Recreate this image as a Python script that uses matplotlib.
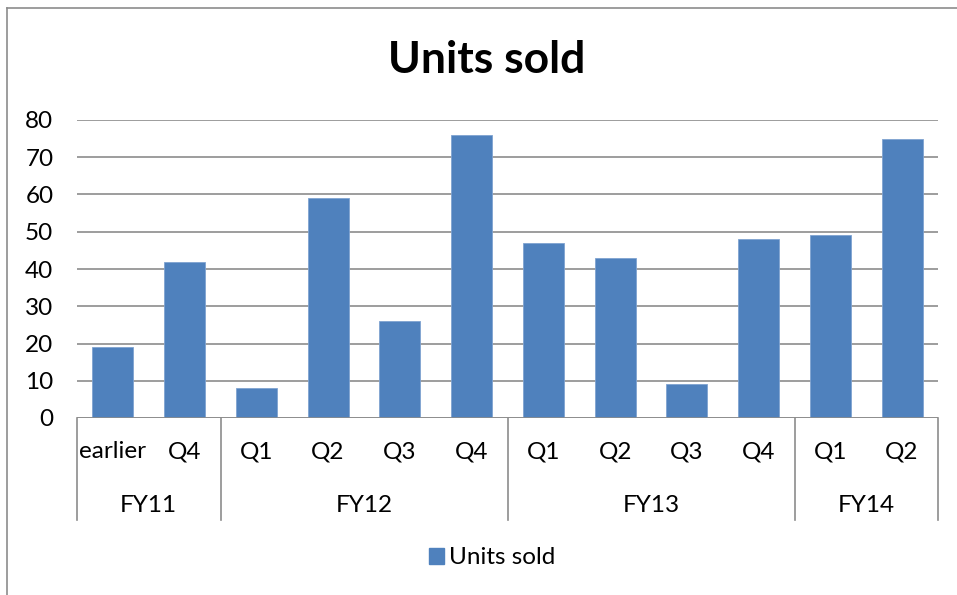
import matplotlib.pyplot as plt
from matplotlib.lines import Line2D
from matplotlib.patches import Patch

quarters = ['earlier', 'Q4', 'Q1', 'Q2', 'Q3', 'Q4', 'Q1', 'Q2', 'Q3', 'Q4', 'Q1', 'Q2']
years = ['FY11', 'FY12', 'FY13', 'FY14']
year_sizes = [2, 4, 4, 2]
units = [19, 42, 8, 59, 26, 76, 47, 43, 9, 48, 49, 75]

plt.rcParams['font.family'] = ['Lato', 'DejaVu Sans']
bar_color = '#4F81BD'
grid_color = '#8C8C8C'

W, H = 957, 595
fig = plt.figure(figsize=(W / 100, H / 100), dpi=100)
ax = fig.add_axes([77 / W, (H - 418) / H, (938 - 77) / W, (418 - 120) / H])

x = list(range(len(units)))
ax.bar(x, units, width=0.57, color=bar_color, edgecolor='#7FA3D1', linewidth=0.6,
       zorder=3, label='Units sold')
ax.set_xlim(-0.5, len(units) - 0.5)
ax.set_ylim(0, 80)
ax.set_yticks(range(0, 81, 10))
ax.yaxis.grid(True, color=grid_color, linewidth=1.2, zorder=0)
for s in ax.spines.values():
    s.set_visible(False)
ax.axhline(0, color=grid_color, linewidth=1.2, zorder=4)
ax.tick_params(axis='y', length=0, pad=17, labelsize=17.5)
ax.set_xticks([])

# two-level category axis
tr = ax.get_xaxis_transform()
for i, q in enumerate(quarters):
    ax.text(i, -0.114, q, transform=tr, ha='center', va='center', fontsize=17.5)
bounds = [-0.5]
for n in year_sizes:
    bounds.append(bounds[-1] + n)
for b in bounds:
    ax.plot([b, b], [0, -0.342], transform=tr, color=grid_color, linewidth=1.2, clip_on=False)
for j, y in enumerate(years):
    mid = (bounds[j] + bounds[j + 1]) / 2
    ax.text(mid, -0.292, y, transform=tr, ha='center', va='center', fontsize=17.5)

fig.text(487 / W, (H - 60) / H, 'Units sold', ha='center', va='center',
         fontsize=32, fontweight='bold')

fig.legend(handles=[Patch(color=bar_color, label='Units sold')], loc='center',
           bbox_to_anchor=(492 / W, (H - 558) / H), frameon=False, fontsize=17.5,
           handlelength=0.65, handleheight=0.65, handletextpad=0.2)

# outer chart border
fig.add_artist(Line2D([7 / W, 7 / W], [0, (H - 8) / H], color='#8C8C8C', linewidth=1.2))
fig.add_artist(Line2D([7 / W, 1], [(H - 8) / H, (H - 8) / H], color='#8C8C8C', linewidth=1.2))

fig.savefig('out.png', dpi=100)
